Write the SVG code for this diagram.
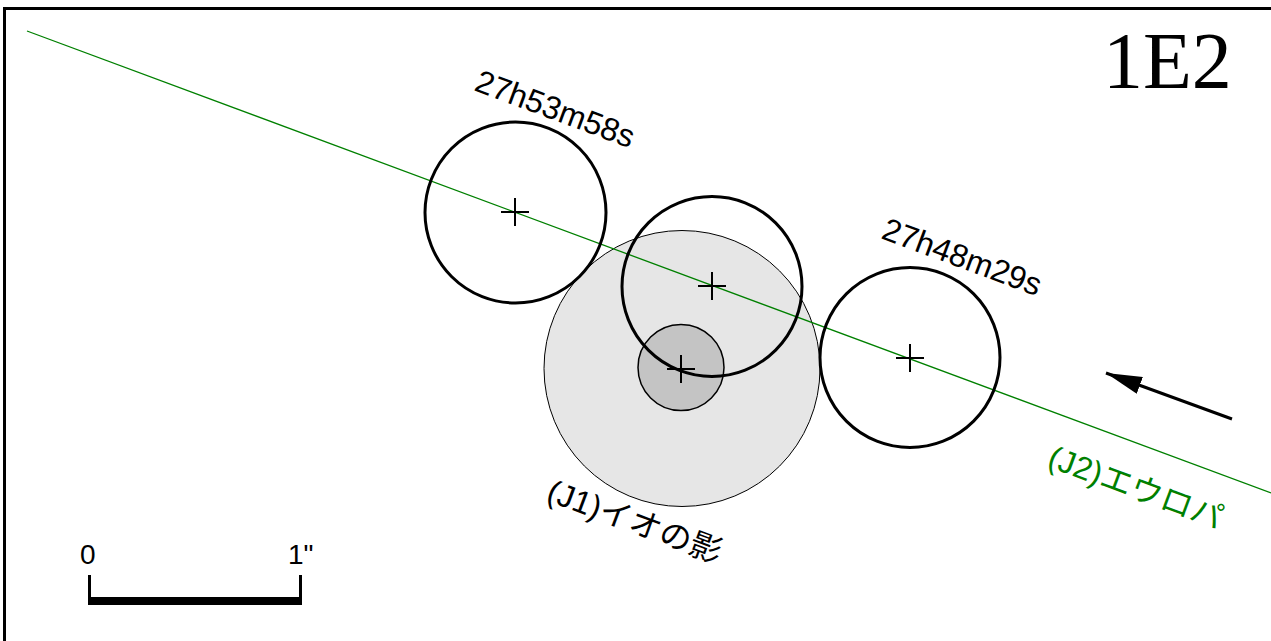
<svg xmlns="http://www.w3.org/2000/svg" width="1271" height="641" viewBox="0 0 1271 641">
<style>
.sat{fill:none;stroke:#000;stroke-width:3}
.cross{stroke:#000;stroke-width:2;fill:none}
.lbl{font-family:"Liberation Sans",Arial,"Noto Sans CJK JP",sans-serif;font-size:32px;fill:#000}
</style>
<defs>
<marker id="ah" viewBox="0 0 36 18" refX="36" refY="9" markerWidth="36" markerHeight="18" markerUnits="userSpaceOnUse" orient="auto">
<path d="M0,0 L36,9 L0,18 z" fill="#000"/>
</marker>
</defs>
<rect x="0" y="0" width="1271" height="641" fill="#fff"/>
<rect id="frame" x="4.5" y="8.5" width="1280" height="650" fill="none" stroke="#000" stroke-width="3"/>
<g id="shadow">
<circle cx="682" cy="368.5" r="138" fill="#e6e6e6" stroke="#000" stroke-width="1"/>
<circle cx="681" cy="367.5" r="43" fill="#c4c4c4" stroke="#000" stroke-width="1.5"/>
<path class="cross" d="M667,369 H695 M681,355 V383"/>
</g>
<g id="connectors">
<line x1="27" y1="31" x2="1271" y2="493" stroke="#008000" stroke-width="1.3"/>
<line x1="1232" y1="419" x2="1106" y2="373" stroke="#000" stroke-width="3" marker-end="url(#ah)"/>
</g>
<g id="europa1">
<circle class="sat" cx="515.5" cy="212.5" r="90.5"/>
<path class="cross" d="M501,212 H529 M515,198 V226"/>
</g>
<g id="europa2">
<circle class="sat" cx="712" cy="286.5" r="90"/>
<path class="cross" d="M698,286 H726 M712,272 V300"/>
</g>
<g id="europa3">
<circle class="sat" cx="910" cy="357.5" r="90"/>
<path class="cross" d="M896,358 H924 M910,344 V372"/>
</g>
<g id="labels">
<text class="lbl" transform="translate(473,90) rotate(20.4)">27h53m58s</text>
<text class="lbl" transform="translate(880,238) rotate(20.4)">27h48m29s</text>
<text class="lbl" transform="translate(545,500) rotate(20.4)">(J1)イオの影</text>
<text class="lbl" transform="translate(1046,466) rotate(20.4)" style="fill:#008000">(J2)エウロパ</text>
<text x="1103" y="88" style="font-family:'Liberation Serif','Times New Roman',serif;font-size:80px;fill:#000">1E2</text>
</g>
<g id="scale">
<path d="M89.5,575 V605 M300.5,575 V605" stroke="#000" stroke-width="3" fill="none"/>
<line x1="88" y1="601" x2="302" y2="601" stroke="#000" stroke-width="8"/>
<text class="lbl" x="80" y="564" style="font-size:28px">0</text>
<text class="lbl" x="288" y="564" style="font-size:28px">1"</text>
</g>
</svg>
